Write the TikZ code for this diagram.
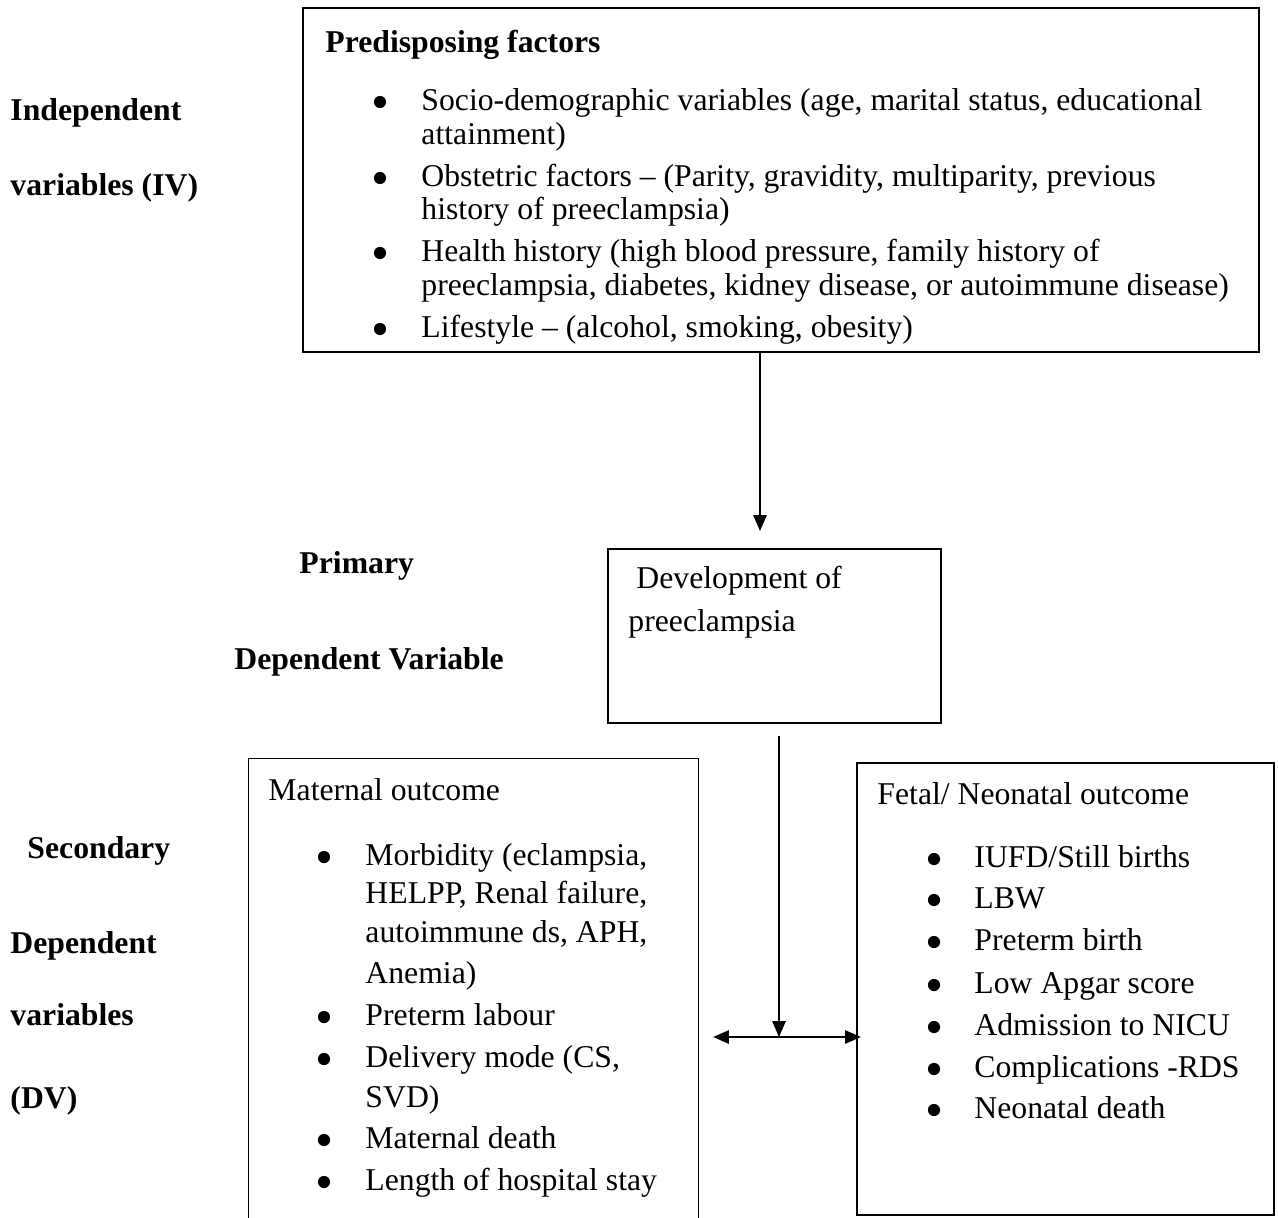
\documentclass[tikz,border=0pt]{standalone}
\usepackage{fontspec}
\setmainfont{Liberation Serif}
\usetikzlibrary{arrows.meta,positioning,fit}

\tikzset{
  box/.style={draw, line width=0.8pt, inner sep=0pt},
  lbl/.style={anchor=base west, inner sep=0pt, font=\fontsize{13pt}{15pt}\selectfont\bfseries},
  txt/.style={anchor=base west, inner sep=0pt},
  bul/.style={circle, fill, inner sep=0pt, minimum size=5pt},
  arr/.style={-{Triangle[length=6.5pt,width=5.5pt]}, line width=0.6pt},
  arrboth/.style={{Triangle[length=6.5pt,width=5.5pt]}-{Triangle[length=6.5pt,width=5.5pt]}, line width=0.6pt},
}

\begin{document}
\begin{tikzpicture}[x=0.41pt, y=-0.41pt, font=\fontsize{13pt}{15pt}\selectfont]
  \useasboundingbox (0,0) rectangle (1278,1218);
  % boxes
  \node[box, fit={(303,8) (1259,352)}] (pf) {};
  \node[box, fit={(608,549) (941,723)}] (dev) {};
  \node[inner sep=0pt, fit={(249,759) (698,1218)}] (mat) {};
  \draw[line width=0.8pt] (mat.south west) |- (mat.north east) -- (mat.south east);
  \node[box, fit={(857,763) (1274,1215)}] (fet) {};
  % left labels
  \node[lbl] (iv1) at (10,120) {Independent};
  \node[lbl] (iv2) at (10,195) {variables (IV)};
  \node[lbl] (pdv1) at (299,573) {Primary};
  \node[lbl] (pdv2) at (234,669) {Dependent Variable};
  \node[lbl] (sdv1) at (27,858) {Secondary};
  \node[lbl] (sdv2) at (10,953) {Dependent};
  \node[lbl] (sdv3) at (10,1025) {variables};
  \node[lbl] (sdv4) at (10,1108) {(DV)};
  % predisposing factors
  \node[lbl] (pfh) at (325,52) {Predisposing factors};
  \foreach \b/\y/\t [count=\i] in {1/110/{Socio-demographic variables (age, marital status, educational},
      0/144/{attainment)}, 1/186/{Obstetric factors – (Parity, gravidity, multiparity, previous},
      0/219/{history of preeclampsia)}, 1/261/{Health history (high blood pressure, family history of},
      0/295/{preeclampsia, diabetes, kidney disease, or autoimmune disease)},
      1/337/{Lifestyle – (alcohol, smoking, obesity)}} {
    \if\b1 \node[bul] (pfb\i) at (380,\y-8) {};\fi
    \node[txt] (pft\i) at (421,\y) {\t};
  }
  % development
  \node[txt] (dev1) at (636,588) {Development of};
  \node[txt] (dev2) at (628,631) {preeclampsia};
  % maternal outcome
  \node[txt] (math) at (268,800) {Maternal outcome};
  \foreach \b/\y/\t [count=\i] in {1/865/{Morbidity (eclampsia,}, 0/903/{HELPP, Renal failure,},
      0/942/{autoimmune ds, APH,}, 0/983/{Anemia)}, 1/1025/{Preterm labour},
      1/1067/{Delivery mode (CS,}, 0/1107/{SVD)}, 1/1148/{Maternal death},
      1/1190/{Length of hospital stay}} {
    \if\b1 \node[bul] (matb\i) at (324,\y-8) {};\fi
    \node[txt] (matt\i) at (365,\y) {\t};
  }
  % fetal outcome
  \node[txt] (feth) at (877,804) {Fetal/ Neonatal outcome};
  \foreach \y/\t [count=\i] in {867/{IUFD/Still births}, 908/LBW, 950/{Preterm birth},
      993/{Low Apgar score}, 1035/{Admission to NICU}, 1077/{Complications -RDS},
      1118/{Neonatal death}} {
    \node[bul] (fetb\i) at (934,\y-8) {};
    \node[txt] (fett\i) at (974,\y) {\t};
  }
  % arrows
  \coordinate (a1) at (760,0);
  \draw[arr, shorten >=7pt] (pf.south -| a1) -- (dev.north -| a1);
  \coordinate (j) at (779,1037);
  \draw[arr, shorten <=5pt] (dev.south -| j) -- (j);
  \draw[arrboth, shorten <=6pt, shorten >=-2pt] (mat.east |- j) -- (fet.west |- j);
\end{tikzpicture}
\end{document}
